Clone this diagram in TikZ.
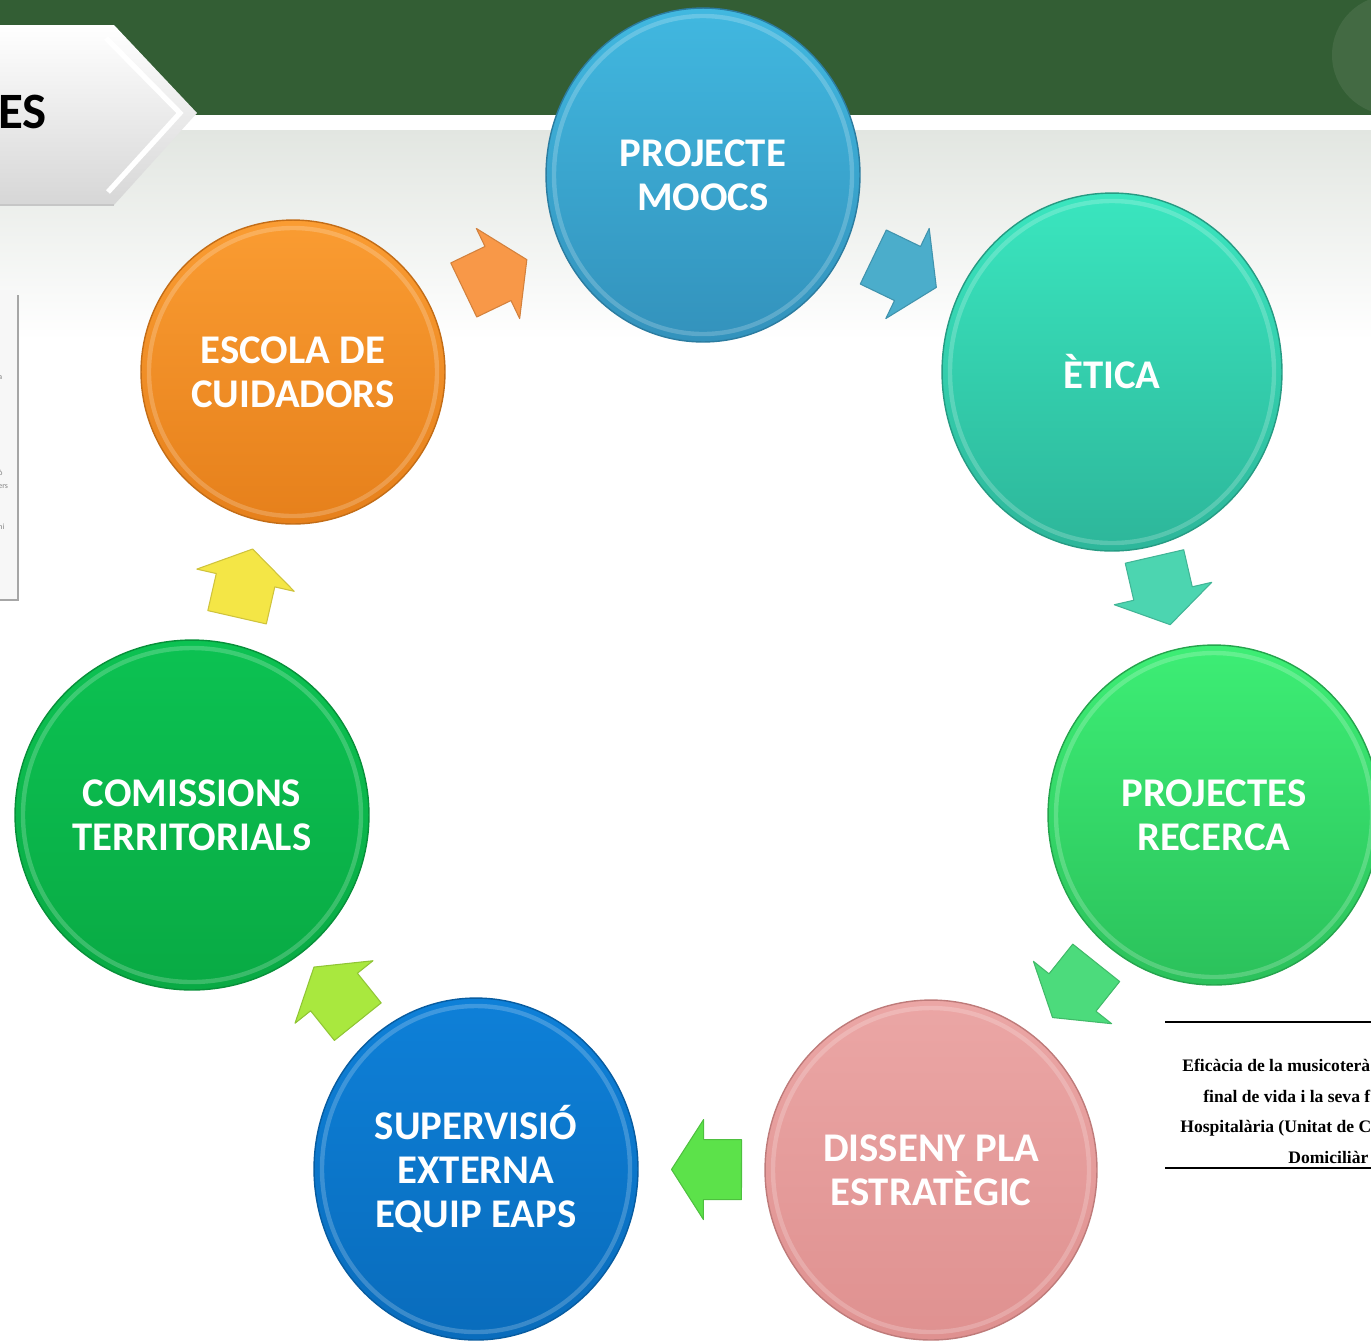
\documentclass[tikz,border=0pt]{standalone}
\usepackage{fontspec}
\setmainfont{Carlito}
\newfontfamily\paperfont{Liberation Serif}
\usetikzlibrary{calc, positioning, shapes.geometric}
\definecolor{bandGreen}{HTML}{335E34}
\definecolor{bgGray}{HTML}{E2E6E1}
\definecolor{moocsTop}{HTML}{41B8E0}
\definecolor{moocsBot}{HTML}{3392BC}
\definecolor{eticaTop}{HTML}{3AE6BF}
\definecolor{eticaBot}{HTML}{2DB69A}
\definecolor{recercaTop}{HTML}{3DEE75}
\definecolor{recercaBot}{HTML}{2BC15B}
\definecolor{dissenyTop}{HTML}{EBA6A5}
\definecolor{dissenyBot}{HTML}{DF9190}
\definecolor{superTop}{HTML}{0E80D8}
\definecolor{superBot}{HTML}{096CBC}
\definecolor{comisTop}{HTML}{0CC252}
\definecolor{comisBot}{HTML}{09AA44}
\definecolor{escolaTop}{HTML}{FA9C32}
\definecolor{escolaBot}{HTML}{E6801B}
\definecolor{arrOrange}{HTML}{F89848}
\definecolor{arrBlue}{HTML}{4BADCB}
\definecolor{arrTeal}{HTML}{4CD5B0}
\definecolor{arrGreen}{HTML}{4CDB7C}
\definecolor{arrLeaf}{HTML}{5CE24A}
\definecolor{arrLime}{HTML}{A9E83E}
\definecolor{arrYellow}{HTML}{F4E646}

\tikzset{
  stage/.style={ellipse, inner sep=0pt, align=center, text=white,
    font=\bfseries\fontsize{23.2}{25}\selectfont, line width=0.8pt},
  rim/.style={white, opacity=0.2, line width=2.5pt},
  pics/flowarrow/.style={code={
    \filldraw[line width=0.6pt, line join=round, #1]
      (-38,-30) -- (0,-30) -- (0,-50) -- (32,0) -- (0,50) -- (0,30) -- (-38,30) -- cycle;
  }}
}

\begin{document}
\begin{tikzpicture}[x=0.02cm, y=-0.02cm]
    \useasboundingbox (0,0) rectangle (1371,1340);
    \clip (0,0) rectangle (1371,1340);

    % header band
    \fill[bandGreen] (0,0) rectangle (1371,115);
    \fill[white, opacity=0.08] (1392,55) circle[radius=60];
    \shade[top color=bgGray, bottom color=white] (0,130) rectangle (1371,340);

    % title tab
    \shade[top color=white, bottom color=gray!32] (0,25) -- (114,25) -- (197,113) -- (114,205) -- (0,205) -- cycle;
    \draw[white, line width=3pt] (106,38) -- (180,113) -- (108,192);
    \draw[gray!45, line width=1pt] (0,205) -- (114,205);
    \node[anchor=base east, inner sep=0pt, font=\bfseries\fontsize{29}{30}\selectfont] (tab) at (47,128) {ES};

    % side panel
    \fill[gray!6] (0,290) rectangle (18,600);
    \draw[gray!70, line width=1pt] (18,295) -- (18,600) -- (0,600);
    \foreach \t/\y in {a/378, ò/473, ers/487, ni/527}
      \node[anchor=west, inner sep=0pt, text=gray, font=\fontsize{4.5}{5}\selectfont] at (-2,\y) {\t};

    % stages
    \node[stage, minimum width=6.28cm, minimum height=6.68cm, top color=moocsTop, bottom color=moocsBot, draw=moocsBot!85!black] (moocs) at (703,175) {PROJECTE\\MOOCS};
    \node[stage, minimum width=6.8cm, minimum height=7.16cm, top color=eticaTop, bottom color=eticaBot, draw=eticaBot!85!black] (etica) at (1112,372) {ÈTICA};
    \node[stage, minimum width=6.64cm, minimum height=6.8cm, top color=recercaTop, bottom color=recercaBot, draw=recercaBot!85!black] (recerca) at (1214,815) {PROJECTES\\RECERCA};
    \node[stage, minimum width=6.64cm, minimum height=6.8cm, top color=dissenyTop, bottom color=dissenyBot, draw=dissenyBot!85!black] (disseny) at (931,1170) {DISSENY PLA\\ESTRATÈGIC};
    \node[stage, minimum width=6.48cm, minimum height=6.84cm, top color=superTop, bottom color=superBot, draw=superBot!85!black] (super) at (476,1169) {SUPERVISIÓ\\EXTERNA\\EQUIP EAPS};
    \node[stage, minimum width=7.08cm, minimum height=7.0cm, top color=comisTop, bottom color=comisBot, draw=comisBot!85!black] (comis) at (192,815) {COMISSIONS\\TERRITORIALS};
    \node[stage, minimum width=6.08cm, minimum height=6.08cm, top color=escolaTop, bottom color=escolaBot, draw=escolaBot!85!black] (escola) at (293,372) {ESCOLA DE\\CUIDADORS};

    \foreach \n/\rx/\ry in {moocs/149/159, etica/162/171, recerca/158/162, disseny/158/162, super/154/163, comis/169/167, escola/144/144}
      \draw[rim] (\n.center) ellipse[x radius=\rx, y radius=\ry];

    % cycle arrows
    \path (escola.center) -- pic[pos=0.5, sloped, allow upside down] {flowarrow={fill=arrOrange, draw=arrOrange!85!black}} (moocs.center);
    \path (moocs.center) -- pic[pos=0.5, sloped, allow upside down] {flowarrow={fill=arrBlue, draw=arrBlue!85!black}} (etica.center);
    \path (etica.center) -- pic[pos=0.5, sloped, allow upside down] {flowarrow={fill=arrTeal, draw=arrTeal!85!black}} (recerca.center);
    \path (recerca.center) -- pic[pos=0.5, sloped, allow upside down] {flowarrow={fill=arrGreen, draw=arrGreen!85!black}} (disseny.center);
    \path (disseny.center) -- pic[pos=0.5, sloped, allow upside down] {flowarrow={fill=arrLeaf, draw=arrLeaf!85!black}} (super.center);
    \path (super.center) -- pic[pos=0.5, sloped, allow upside down] {flowarrow={fill=arrLime, draw=arrLime!85!black}} (comis.center);
    \path (comis.center) -- pic[pos=0.53, sloped, allow upside down] {flowarrow={fill=arrYellow, draw=arrYellow!85!black}} (escola.center);

    % paper title
    \draw[line width=1.2pt] (1165,1022) coordinate (ruleA) -- (1371,1022);
    \draw[line width=1.2pt] (1165,1168) coordinate (ruleB) -- (1371,1168);
    \foreach \t/\x/\y in {Eficàcia de la musicoterà/1182/1071, final de vida i la seva f/1203/1102, Hospitalària (Unitat de C/1180/1132, Domiciliàr/1288/1163}
      \node[anchor=base west, inner sep=0pt, font=\paperfont\bfseries\fontsize{10}{12}\selectfont] at (\x,\y) {\t};
\end{tikzpicture}
\end{document}
